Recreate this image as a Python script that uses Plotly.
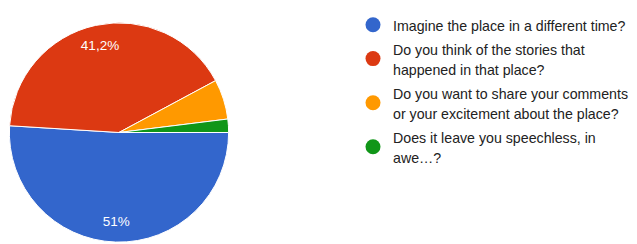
import plotly.graph_objects as go

categories = [
    "Imagine the place in a different time?",
    "Do you think of the stories that<br>happened in that place?",
    "Do you want to share your comments<br>or your excitement about the place?",
    "Does it leave you speechless, in<br>awe…?",
]
counts = [26, 21, 3, 1]
colors = ["#3366CC", "#DC3912", "#FF9900", "#109618"]
label_positions = ["inside", "inside", "none", "none"]

W, H = 637, 244
# the page body has an 8px margin, so figure coords = window coords - 8
cx, cy, r = 111, 123, 111
dom = dict(x=[(cx - r) / W, (cx + r) / W], y=[1 - (cy + r) / H, 1 - (cy - r) / H])
plain_labels = [c.replace("<br>", " ") for c in categories]

fig = go.Figure()
# full pie (slices)
fig.add_trace(go.Pie(
    labels=plain_labels, values=counts, sort=False, direction="clockwise", rotation=90,
    marker=dict(colors=colors, line=dict(color="white", width=1)),
    textinfo="none", domain=dom, showlegend=False, hoverinfo="label+percent",
))
# transparent ring overlay carrying the percentage labels at ~0.8 of the radius
fig.add_trace(go.Pie(
    labels=plain_labels, values=counts, sort=False, direction="clockwise", rotation=90,
    hole=0.62,
    marker=dict(colors=["rgba(0,0,0,0)"] * len(counts), line=dict(width=0)),
    textinfo="percent", textposition=label_positions,
    insidetextorientation="horizontal",
    insidetextfont=dict(family="Liberation Sans, Arial", size=13.5, color="white"),
    domain=dom, showlegend=False, hoverinfo="skip",
))

span = '<span style="font-size:14.2px">'
for name, col in zip(categories, colors):
    fig.add_trace(go.Scatter(
        x=[None], y=[None], mode="markers",
        name=span + name.replace("<br>", "</span><br>" + span) + "</span>",
        marker=dict(size=15, color=col, symbol="circle"),
        showlegend=True, hoverinfo="skip",
    ))

fig.update_layout(
    width=W, height=H,
    margin=dict(l=0, r=0, t=0, b=0),
    paper_bgcolor="white", plot_bgcolor="white",
    separators=",.",
    xaxis=dict(visible=False), yaxis=dict(visible=False),
    legend=dict(
        x=345 / W, xanchor="left", y=1 + 3 / H, yanchor="top",
        font=dict(family="Liberation Sans, Arial", size=15.8, color="#222222"),
        bgcolor="rgba(0,0,0,0)", borderwidth=0,
    ),
)
try:
    fig.update_layout(legend_maxheight=240)
except Exception:
    pass

fig.write_html("out.html")
